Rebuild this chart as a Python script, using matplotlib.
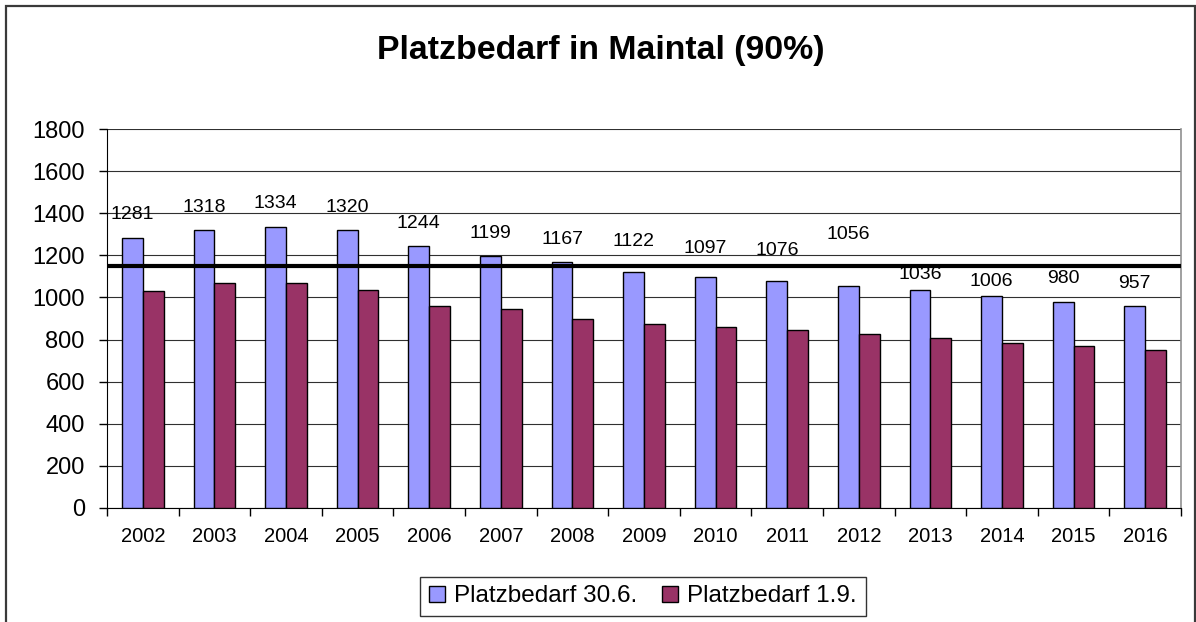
import matplotlib
matplotlib.use("Agg")
import matplotlib.pyplot as plt
from matplotlib.patches import Rectangle
import numpy as np

plt.rcParams['font.family'] = ['Liberation Sans', 'DejaVu Sans']

# ---- data ----
years = ["2002", "2003", "2004", "2005", "2006", "2007", "2008", "2009",
         "2010", "2011", "2012", "2013", "2014", "2015", "2016"]
bedarf_30_6 = [1281, 1318, 1334, 1320, 1244, 1199, 1167, 1122,
               1097, 1076, 1056, 1036, 1006, 980, 957]
bedarf_1_9 = [1030, 1067, 1067, 1037, 961, 945, 897, 875,
              859, 844, 828, 806, 783, 768, 752]
threshold = 1150
series_names = ["Platzbedarf 30.6.", "Platzbedarf 1.9."]
title = "Platzbedarf in Maintal (90%)"
y_ticks = list(range(0, 1801, 200))

# label offsets above bar tops (pixels), as placed in the reference
label_offset_px = [24, 23, 24, 23, 23, 22, 23, 30, 29, 31, 51, 15, 15, 23, 23]

W, H = 1196, 622
DPI = 100
fig = plt.figure(figsize=(W / DPI, H / DPI), dpi=DPI)
fig.patch.set_facecolor("white")

# outer chart border
fig.add_artist(Rectangle((6 / W, -0.05), (1195 - 6) / W, (H - 6) / H + 0.05,
                         transform=fig.transFigure, fill=False,
                         edgecolor="#3a3a3a", linewidth=1.6, zorder=0))

left, right, top, bottom = 107, 1181, 129, 508
ax = fig.add_axes([left / W, (H - bottom) / H, (right - left) / W, (bottom - top) / H])

x = np.arange(len(years))
bw = 0.29
ax.bar(x, bedarf_30_6, width=-bw, align="edge", color="#9999FF",
       edgecolor="black", linewidth=1.0, zorder=3, label=series_names[0])
ax.bar(x, bedarf_1_9, width=bw, align="edge", color="#993366",
       edgecolor="black", linewidth=1.0, zorder=3, label=series_names[1])

ax.axhline(threshold, color="black", linewidth=3.0, zorder=4)

for xi, v, off in zip(x, bedarf_30_6, label_offset_px):
    ax.annotate(str(v), (xi - bw / 2, v), xytext=(0, off * 72 / DPI),
                textcoords="offset points", ha="center", va="center",
                fontsize=14, color="black", zorder=5)

ax.set_xlim(-0.5, len(years) - 0.5)
ax.set_ylim(0, 1800)
ax.set_yticks(y_ticks)
ax.set_yticklabels([str(t) for t in y_ticks], fontsize=17)
ax.set_xticks(x)
ax.set_xticklabels(years, fontsize=14.5)
ax.set_xticks(np.arange(-0.5, len(years)), minor=True)
ax.tick_params(axis="x", which="major", length=0, pad=14)
ax.tick_params(axis="x", which="minor", length=6, width=1, direction="out", color="black")
ax.tick_params(axis="y", length=6, width=1, direction="out", pad=10, color="black")

ax.yaxis.grid(True, color="#303030", linewidth=0.8, zorder=0)
ax.set_axisbelow(True)
ax.spines["top"].set_visible(False)
ax.spines["right"].set_color("#909090")
ax.spines["right"].set_linewidth(1.2)
ax.spines["left"].set_color("black")
ax.spines["bottom"].set_color("black")

fig.text(601 / W, 1 - 50 / H, title, ha="center", va="center",
         fontsize=24.4, fontweight="bold")

leg = fig.legend(loc="center", bbox_to_anchor=(643 / W, 1 - 596.5 / H),
                 ncol=2, fontsize=17.5, frameon=True, fancybox=False,
                 edgecolor="black", handlelength=0.65, handleheight=0.65,
                 handletextpad=0.4, columnspacing=1.0, borderpad=0.35,
                 borderaxespad=0)
leg.get_frame().set_linewidth(1.0)

fig.savefig("out.png", dpi=DPI)
